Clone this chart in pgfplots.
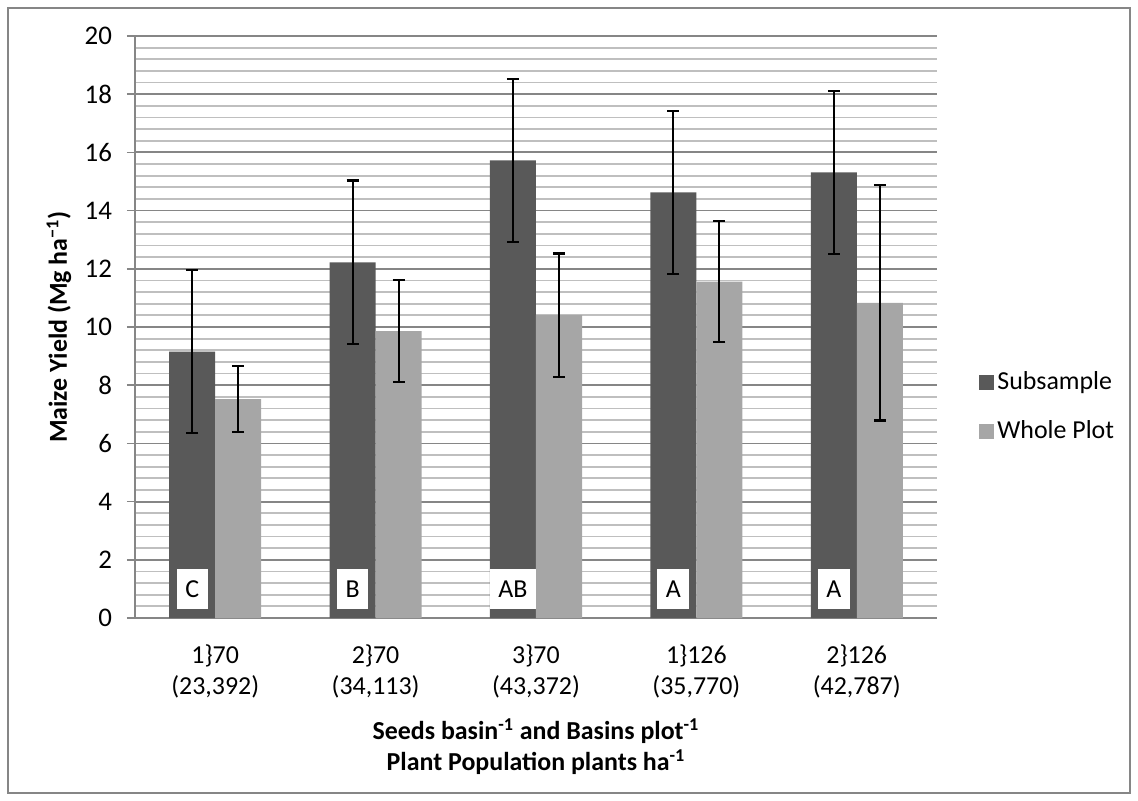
\documentclass[border=0pt]{standalone}
\usepackage{fontspec}
\setmainfont{Carlito}
\usepackage{pgfplots}
\pgfplotsset{compat=1.18}
\definecolor{darkbar}{RGB}{89,89,89}
\definecolor{lightbar}{RGB}{166,166,166}
\definecolor{majgrid}{RGB}{134,134,134}
\definecolor{mingrid}{RGB}{191,191,191}
\definecolor{axisgray}{RGB}{134,134,134}
\definecolor{framegray}{RGB}{134,134,134}
\begin{document}
\begin{tikzpicture}[font=\fontsize{13}{15.5}\selectfont]
\path[use as bounding box] (-67.5bp,-91.5bp) rectangle (501.5bp,309bp);
\draw[framegray, line width=0.75bp] (-63.5bp,-87.5bp) rectangle (497.5bp,305bp);
\begin{axis}[
  at={(0,0)}, anchor=south west,
  scale only axis, width=401bp, height=291bp,
  xmin=-0.5, xmax=4.5, ymin=0, ymax=20,
  ytick={0,2,...,20},
  minor y tick num=4,
  xtick={0,1,2,3,4},
  xticklabels={{1\}70\\(23,392)},{2\}70\\(34,113)},{3\}70\\(43,372)},{1\}126\\(35,770)},{2\}126\\(42,787)}},
  xticklabel style={align=center, font=\fontsize{13}{15.5}\selectfont, yshift=-6bp},
  yticklabel style={font=\fontsize{13.5}{15.5}\selectfont, xshift=-4bp},
  /pgf/number format/assume math mode=true,
  axis x line=bottom, axis y line=left,
  axis line style={-, axisgray, line width=1bp},
  x tick style={draw=none},
  y tick style={axisgray, line width=0.8bp},
  tick align=outside, major tick length=4bp, minor tick length=0pt,
  ymajorgrids, yminorgrids,
  major grid style={majgrid, line width=0.9bp},
  minor grid style={mingrid, line width=0.9bp},
  ybar, bar width=0.287,
  ylabel={\bfseries Maize Yield (Mg ha\textsuperscript{\char"2212 1})},
  ylabel style={at={(axis description cs:-0.0948,0.5)}, anchor=center, font=\fontsize{13}{15.5}\selectfont},
  xlabel={\bfseries Seeds basin\textsuperscript{-1} and Basins plot\textsuperscript{-1}\\\bfseries Plant Population plants ha\textsuperscript{-1}},
  xlabel style={at={(axis description cs:0.5,0)}, yshift=-47bp, anchor=north, align=center, font=\fontsize{13}{15.5}\selectfont},
  legend style={draw=none, fill=none, at={(axis description cs:1.0524,0.363)}, anchor=west, inner sep=0pt, row sep=11bp,
    nodes={inner sep=1.5bp, anchor=west}, font=\fontsize{13}{15.5}\selectfont},
  legend image code/.code={\fill[#1] (0bp,-3.75bp) rectangle (7.5bp,3.75bp);},
  legend cell align=left,
  clip=false,
]
\addplot[fill=darkbar, draw=none, bar shift=-0.1435,
  error bars/.cd, y dir=both, y explicit,
  error bar style={black, line width=1bp},
  error mark options={rotate=90, mark size=3bp, line width=1.2bp, black}]
  coordinates {(0,9.15) +- (0,2.80) (1,12.22) +- (0,2.81) (2,15.73) +- (0,2.80) (3,14.63) +- (0,2.80) (4,15.31) +- (0,2.81)};
\addplot[fill=lightbar, draw=none, bar shift=0.1435,
  error bars/.cd, y dir=both, y explicit,
  error bar style={black, line width=1bp},
  error mark options={rotate=90, mark size=3bp, line width=1.2bp, black}]
  coordinates {(0,7.52) +- (0,1.13) (1,9.86) +- (0,1.75) (2,10.41) +- (0,2.12) (3,11.56) +- (0,2.08) (4,10.83) +- (0,4.04)};
\legend{Subsample, Whole Plot}
\node[fill=white, minimum height=20bp, inner xsep=4.3bp, inner ysep=0pt] at (axis cs:-0.1435,1.0) {C};
\node[fill=white, minimum height=20bp, inner xsep=4.3bp, inner ysep=0pt] at (axis cs:0.8565,1.0) {B};
\node[fill=white, minimum height=20bp, inner xsep=4.3bp, inner ysep=0pt] at (axis cs:1.8565,1.0) {AB};
\node[fill=white, minimum height=20bp, inner xsep=4.3bp, inner ysep=0pt] at (axis cs:2.8565,1.0) {A};
\node[fill=white, minimum height=20bp, inner xsep=4.3bp, inner ysep=0pt] at (axis cs:3.8565,1.0) {A};
\end{axis}
\end{tikzpicture}
\end{document}
